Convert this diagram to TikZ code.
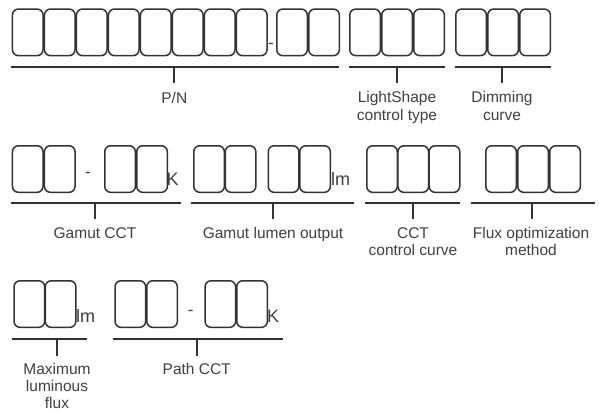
\documentclass[tikz,border=0pt]{standalone}
\usepackage{fontspec}
\setmainfont{Liberation Sans}
\definecolor{edge}{HTML}{333333}
\definecolor{txt}{HTML}{404040}
\tikzset{
  digit/.style={draw=edge, line width=1.5pt, rounded corners=6pt, minimum width=30.6pt, minimum height=46.6pt, inner sep=0pt, anchor=north west},
  brace/.style={draw=edge, line width=1.7pt},
  lbl/.style={text=txt, font=\fontsize{15.5}{17.3}\selectfont, align=center, anchor=base, inner sep=0pt},
  unit/.style={text=txt, font=\fontsize{18}{20}\selectfont, anchor=base west, inner sep=0pt},
  sep/.style={text=txt, font=\fontsize{17}{20}\selectfont, anchor=base, inner sep=0pt}
}
\begin{document}
\begin{tikzpicture}[x=1pt,y=-1pt]
\useasboundingbox (0,0) rectangle (599,412);
% ---------- Row 1 ----------
\foreach \i/\x in {1/11.7,2/43.7,3/75.7,4/107.7,5/139.7,6/171.7,7/203.7,8/235.7,9/276,10/308}
  \node[digit] (pn\i) at (\x,8.3) {};
\node[sep] (pndash) at (271,48.5) {-};
\foreach \i/\x in {1/349,2/381,3/413}
  \node[digit] (ls\i) at (\x,8.3) {};
\foreach \i/\x in {1/455,2/487,3/519}
  \node[digit] (dm\i) at (\x,8.3) {};
\coordinate (pnL) at (11,66.7); \coordinate (pnR) at (338.5,66.7);
\coordinate (pnT) at (174.3,66.7); \coordinate (pnE) at (174.3,83);
\coordinate (lsL) at (349,66.7); \coordinate (lsR) at (445,66.7);
\coordinate (lsT) at (397,66.7); \coordinate (lsE) at (397,83);
\coordinate (dmL) at (455,66.7); \coordinate (dmR) at (551,66.7);
\coordinate (dmT) at (502,66.7); \coordinate (dmE) at (502,83);
\draw[brace] (pnL) -- (pnR); \draw[brace] (pnT) -- (pnE);
\draw[brace] (lsL) -- (lsR); \draw[brace] (lsT) -- (lsE);
\draw[brace] (dmL) -- (dmR); \draw[brace] (dmT) -- (dmE);
\node[lbl] (pnlbl) at (174.3,103.3) {P/N};
\node[lbl] (lslbl) at (397,120) {LightShape\\control type};
\node[lbl] (dmlbl) at (502,120) {Dimming\\curve};
% ---------- Row 2 ----------
\foreach \i/\x in {1/11.7,2/43.7,3/104,4/136}
  \node[digit] (gc\i) at (\x,145) {};
\node[sep] (gcdash) at (88,177) {-};
\node[unit] (gcK) at (166.5,185) {K};
\foreach \i/\x in {1/193,2/224.5,3/267.5,4/299}
  \node[digit] (gl\i) at (\x,145) {};
\node[unit] (gllm) at (331,185) {lm};
\foreach \i/\x in {1/366,2/397.2,3/428.4}
  \node[digit] (cc\i) at (\x,145) {};
\foreach \i/\x in {1/485,2/517,3/549}
  \node[digit] (fx\i) at (\x,145) {};
\coordinate (gcL) at (11,202.7); \coordinate (gcR) at (181,202.7);
\coordinate (gcT) at (95,202.7); \coordinate (gcE) at (95,219);
\coordinate (glL) at (191,202.7); \coordinate (glR) at (354,202.7);
\coordinate (glT) at (273,202.7); \coordinate (glE) at (273,219);
\coordinate (ccL) at (365,202.7); \coordinate (ccR) at (460,202.7);
\coordinate (ccT) at (413,202.7); \coordinate (ccE) at (413,219);
\coordinate (fxL) at (471,202.7); \coordinate (fxR) at (595,202.7);
\coordinate (fxT) at (532,202.7); \coordinate (fxE) at (532,219);
\draw[brace] (gcL) -- (gcR); \draw[brace] (gcT) -- (gcE);
\draw[brace] (glL) -- (glR); \draw[brace] (glT) -- (glE);
\draw[brace] (ccL) -- (ccR); \draw[brace] (ccT) -- (ccE);
\draw[brace] (fxL) -- (fxR); \draw[brace] (fxT) -- (fxE);
\node[lbl] (gclbl) at (95,238.3) {Gamut CCT};
\node[lbl] (gllbl) at (273,238.3) {Gamut lumen output};
\node[lbl] (cclbl) at (413,255.6) {CCT\\control curve};
\node[lbl] (fxlbl) at (531,255.6) {Flux optimization\\method};
% ---------- Row 3 ----------
\foreach \i/\x in {1/13.3,2/44.5}
  \node[digit] (mx\i) at (\x,280) {};
\node[unit] (mxlm) at (76,322.3) {lm};
\foreach \i/\x in {1/114.3,2/146,3/204.3,4/236}
  \node[digit] (pc\i) at (\x,280) {};
\node[sep] (pcdash) at (190.7,315) {-};
\node[unit] (pcK) at (267,322.3) {K};
\coordinate (mxL) at (11.7,339); \coordinate (mxR) at (87,339);
\coordinate (mxT) at (57,339); \coordinate (mxE) at (57,355.7);
\coordinate (pcL) at (113,339); \coordinate (pcR) at (283,339);
\coordinate (pcT) at (196.7,339); \coordinate (pcE) at (196.7,355.7);
\draw[brace] (mxL) -- (mxR); \draw[brace] (mxT) -- (mxE);
\draw[brace] (pcL) -- (pcR); \draw[brace] (pcT) -- (pcE);
\node[lbl, font=\fontsize{15.5}{16.7}\selectfont] (mxlbl) at (57,408) {Maximum\\luminous\\flux};
\node[lbl] (pclbl) at (196.7,374.3) {Path CCT};
\end{tikzpicture}
\end{document}
